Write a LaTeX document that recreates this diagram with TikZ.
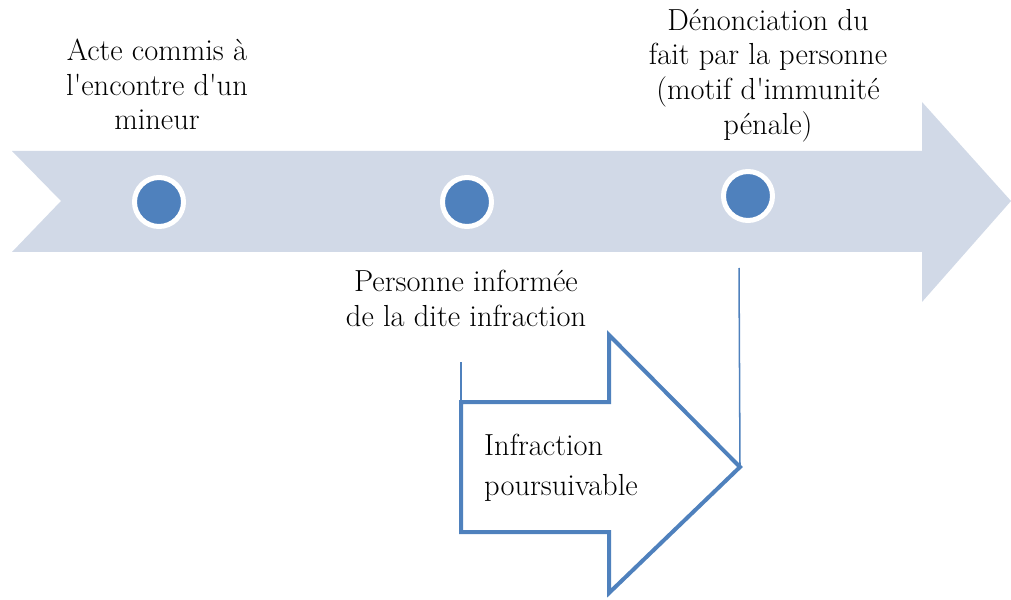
\documentclass[tikz,border=0pt]{standalone}
\usepackage{xcolor}
\usepackage{tikz}

\definecolor{bandgray}{HTML}{D1D9E7}
\definecolor{dotblue}{HTML}{4F81BD}

\tikzset{
  dot/.style={circle, fill=dotblue, draw=white, line width=0.15cm, inner sep=0pt, minimum size=1.47cm},
  caption/.style={align=center, inner sep=0pt, font=\fontsize{26}{29.5}\selectfont},
  tick/.style={draw=dotblue, line width=1.3pt},
}

\begin{document}
\begin{tikzpicture}[x=0.03cm, y=-0.03cm]
        \useasboundingbox (0,0) rectangle (1011,600);

        % Big timeline arrow with notched tail
        \fill[bandgray] (12,151) -- (922,151) -- (922,102) -- (1011,201) -- 
                        (922,302) -- (922,252) -- (12,252) -- (61,201) -- cycle;

        % Dots on the timeline
        \node[dot] (acte) at (159,202) {};
        \node[dot] (info) at (467,202) {};
        \node[dot] (denonc) at (748,196) {};

        % Text nodes above and below the dots
        \node[caption, anchor=north] (acteText) at (157,39) {Acte commis à\\l\textquotesingle encontre d\textquotesingle un\\mineur};
        \node[caption, anchor=north] (denoncText) at (768,9) {Dénonciation du\\fait par la personne\\(motif d\textquotesingle immunité\\pénale)};
        \node[caption, anchor=north] (infoText) at (466,270) {Personne informée\\de la dite infraction};

        % Outlined arrow for the prosecutable period
        \coordinate (tailTop) at (461,402);
        \coordinate (tip) at (740,467);
        \draw[dotblue, fill=white, line width=0.12cm, line join=miter]
              (tailTop) -- (609,402) -- (609,335) -- (tip) -- 
              (609,593) -- (609,532) -- (461,532) -- cycle;
        \node[align=left, anchor=north west, inner sep=0pt, font=\fontsize{26}{34}\selectfont]
              (poursuite) at (484,434) {Infraction\\poursuivable};

        % Ticks from the dates down to the arrow
        \coordinate (infoTick) at (461,362);
        \coordinate (denoncTick) at (739,268);
        \draw[tick] (infoTick) -- (tailTop);
        \draw[tick] (denoncTick) -- (tip);
\end{tikzpicture}
\end{document}
